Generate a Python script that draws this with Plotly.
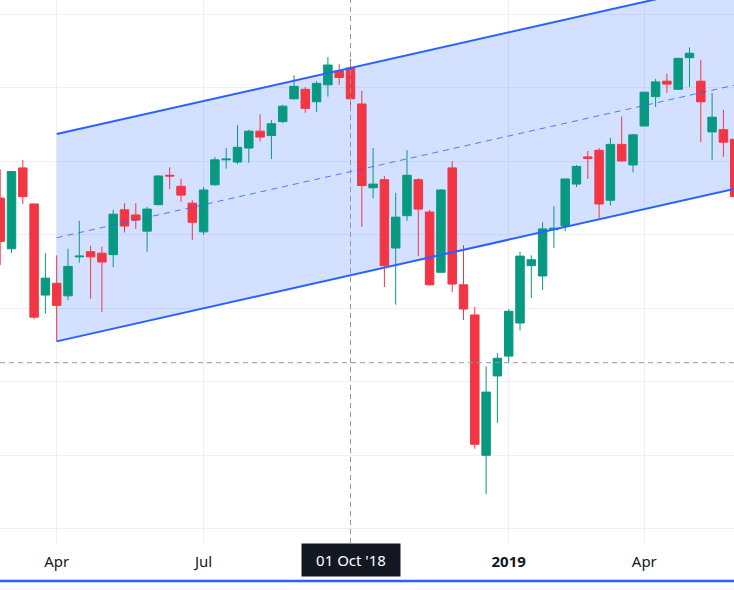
import plotly.graph_objects as go
import pandas as pd

# ---------------- data (weekly bars) ----------------
weeks = pd.date_range("2018-02-26", periods=66, freq="7D")

opens = [2750, 2681, 2791, 2742, 2618, 2634, 2617, 2670, 2677, 2675,
         2673, 2734, 2727, 2705, 2741, 2781, 2766, 2743, 2704, 2768,
         2802, 2799, 2818, 2841, 2835, 2854, 2885, 2898, 2881, 2904,
         2923, 2927, 2878, 2764, 2775, 2682, 2726, 2775, 2731, 2649,
         2791, 2632, 2591, 2400, 2508, 2535, 2580, 2658, 2644, 2707,
         2712, 2769, 2806, 2815, 2747, 2823, 2795, 2848, 2888, 2909,
         2898, 2941, 2909, 2840, 2843, 2830]
highs = [2789, 2787, 2802, 2742, 2675, 2672, 2681, 2719, 2685, 2684,
         2734, 2743, 2743, 2738, 2781, 2792, 2776, 2747, 2765, 2806,
         2818, 2849, 2843, 2864, 2856, 2877, 2917, 2901, 2909, 2942,
         2932, 2939, 2896, 2818, 2780, 2757, 2815, 2777, 2734, 2762,
         2800, 2686, 2602, 2521, 2539, 2599, 2677, 2672, 2717, 2739,
         2776, 2795, 2814, 2818, 2832, 2861, 2837, 2894, 2912, 2919,
         2941, 2955, 2938, 2893, 2870, 2840]
lows = [2659, 2675, 2742, 2585, 2593, 2555, 2611, 2662, 2613, 2595,
        2656, 2703, 2708, 2677, 2740, 2762, 2745, 2693, 2700, 2767,
        2790, 2796, 2798, 2827, 2803, 2852, 2884, 2866, 2867, 2888,
        2904, 2876, 2711, 2750, 2629, 2605, 2719, 2671, 2631, 2649,
        2622, 2584, 2409, 2347, 2444, 2526, 2570, 2614, 2625, 2682,
        2705, 2765, 2776, 2723, 2740, 2800, 2785, 2848, 2874, 2893,
        2897, 2901, 2826, 2802, 2806, 2750]
closes = [2691, 2786, 2752, 2588, 2641, 2604, 2657, 2671, 2670, 2663,
          2728, 2712, 2720, 2735, 2780, 2780, 2754, 2717, 2761, 2802,
          2803, 2819, 2841, 2833, 2851, 2875, 2902, 2872, 2906, 2931,
          2914, 2885, 2767, 2769, 2658, 2724, 2781, 2735, 2632, 2761,
          2633, 2599, 2415, 2486, 2532, 2596, 2671, 2666, 2708, 2709,
          2776, 2793, 2804, 2742, 2823, 2800.5, 2836, 2894, 2908, 2905,
          2940, 2947, 2881, 2860, 2826, 2752]

# parallel channel (two anchor points on the lower line + channel height)
channel_dates = ["2018-04-02", "2019-06-17"]
channel_lower = [2555, 2773]
channel_height = 282

# x-axis ticks
tick_dates = ["2018-04-02", "2018-07-02", "2018-10-01", "2019-01-07", "2019-04-01"]
tick_text = ["Apr", "Jul", "", "<b>2019</b>", "Apr"]

# crosshair
crosshair_date = "2018-10-01"
crosshair_price = 2526
crosshair_label = "01 Oct '18"

# ---------------- styling ----------------
GREEN = "#089981"
RED = "#F23645"
BLUE = "#2962FF"
GRID = "#EEF0F4"
TEXT = "#131722"
FONT = "Noto Sans"

W, H = 734, 590
B = 47
plot_h = H - B
px_per_day = 1.6143
x_start = pd.Timestamp("2018-04-02") - pd.Timedelta(days=56.7 / px_per_day)
x_end = x_start + pd.Timedelta(days=W / px_per_day)

p_per_px = 1.3605
y_top = 2800 + 161.3 * p_per_px
y_bot = y_top - plot_h * p_per_px

upper = [v + channel_height for v in channel_lower]
middle = [v + channel_height / 2 for v in channel_lower]


def ms(d):
    return pd.Timestamp(d).value // 10**6


fig = go.Figure()

# channel fill (between gridlines and traces, so candles stay un-tinted)
cx0, cx1 = ms(channel_dates[0]), ms(channel_dates[1])
path = (f"M {cx0},{channel_lower[0]} L {cx1},{channel_lower[1]} "
        f"L {cx1},{upper[1]} L {cx0},{upper[0]} Z")
fig.add_shape(type="path", xref="x", yref="y", path=path,
              fillcolor="rgba(41,98,255,0.2)", line=dict(width=0), layer="between")

# candles
fig.add_trace(go.Candlestick(
    x=weeks, open=opens, high=highs, low=lows, close=closes,
    increasing=dict(line=dict(color=GREEN, width=1), fillcolor=GREEN),
    decreasing=dict(line=dict(color=RED, width=1), fillcolor=RED),
    whiskerwidth=0, showlegend=False, hoverinfo="skip"))

# channel lines
fig.add_trace(go.Scatter(x=channel_dates, y=channel_lower, mode="lines",
                         line=dict(color=BLUE, width=2), hoverinfo="skip", showlegend=False))
fig.add_trace(go.Scatter(x=channel_dates, y=upper, mode="lines",
                         line=dict(color=BLUE, width=2), hoverinfo="skip", showlegend=False))
fig.add_trace(go.Scatter(x=channel_dates, y=middle, mode="lines",
                         line=dict(color=BLUE, width=1, dash="6px,5px"), opacity=0.8,
                         hoverinfo="skip", showlegend=False))

# crosshair
fig.add_shape(type="line", xref="x", yref="paper", x0=crosshair_date, x1=crosshair_date,
              y0=0, y1=1, line=dict(color="#9598A1", width=1, dash="5px,4px"))
fig.add_shape(type="line", xref="paper", yref="y", x0=0, x1=1,
              y0=crosshair_price, y1=crosshair_price,
              line=dict(color="#9598A1", width=1, dash="5px,4px"))

# bottom blue line
fig.add_shape(type="line", xref="paper", yref="paper", x0=0, x1=1,
              y0=-(581 - plot_h) / plot_h, y1=-(581 - plot_h) / plot_h,
              line=dict(color=BLUE, width=2.5))

# crosshair time label
fig.add_annotation(x=crosshair_date, xref="x", yref="paper",
                   y=-(560 - plot_h) / plot_h, yanchor="middle", xanchor="center",
                   text=crosshair_label, showarrow=False,
                   font=dict(family=FONT, size=15, color="white"),
                   bgcolor="#131722", width=98, height=32, borderpad=0,
                   align="center", valign="middle")

fig.update_layout(
    width=W, height=H,
    margin=dict(l=0, r=0, t=0, b=B),
    paper_bgcolor="white", plot_bgcolor="white",
    boxgap=0.25, boxgroupgap=0,
    font=dict(family=FONT, size=15, color=TEXT),
    xaxis=dict(type="date", range=[x_start, x_end], rangeslider=dict(visible=False),
               tickvals=tick_dates, ticktext=tick_text, showgrid=True, gridcolor=GRID,
               gridwidth=1, zeroline=False, showline=False, ticks="",
               ticklabelstandoff=8, tickfont=dict(family=FONT, size=15, color=TEXT)),
    yaxis=dict(range=[y_bot, y_top], showticklabels=False, showgrid=True, gridcolor=GRID,
               tick0=0, dtick=100, zeroline=False, showline=False, ticks=""),
)

fig.write_html("out.html")
